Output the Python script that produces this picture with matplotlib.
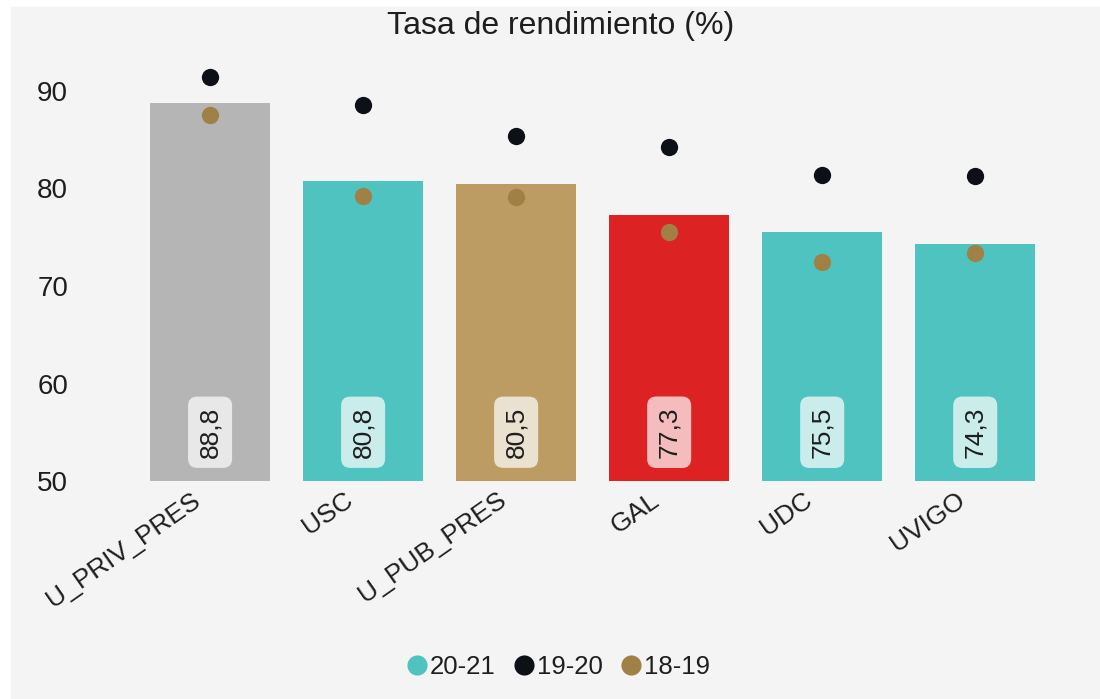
"""Tasa de rendimiento: bars for 20-21 with dots for the two previous years."""

import matplotlib
matplotlib.use("Agg")
import matplotlib.pyplot as plt
from matplotlib.patches import Rectangle
from matplotlib.lines import Line2D
from matplotlib.transforms import ScaledTranslation

# data
universities = ["U_PRIV_PRES", "USC", "U_PUB_PRES", "GAL", "UDC", "UVIGO"]
rate_20_21 = [88.8, 80.8, 80.5, 77.3, 75.5, 74.3]
rate_19_20 = [91.4, 88.6, 85.4, 84.3, 81.4, 81.3]
rate_18_19 = [87.5, 79.2, 79.1, 75.5, 72.5, 73.4]
series_names = ["20-21", "19-20", "18-19"]

# styles
bar_colors = ["#b5b5b5", "#4fc3bf", "#bd9c64", "#dc2222", "#4fc3bf", "#4fc3bf"]
teal = "#4fc3bf"
dot_dark = "#0d1117"
dot_tan = "#a08045"
bg = "#f4f4f4"
text_color = "#1e1e1e"

plt.rcParams["font.family"] = ["Liberation Sans", "DejaVu Sans"]

fig = plt.figure(figsize=(11, 6.99), dpi=100)
fig.patch.set_facecolor("white")
fig.patches.append(Rectangle((11 / 1100, 0), 1, 1 - 7 / 699,
                             transform=fig.transFigure, color=bg, zorder=-10))

ax = fig.add_axes([80 / 1100, (699 - 481) / 699, 1010 / 1100, (481 - 52) / 699])
ax.set_facecolor(bg)
for s in ax.spines.values():
    s.set_visible(False)

x = list(range(len(universities)))
ax.bar(x, [v - 50 for v in rate_20_21], bottom=50, width=0.785,
       color=bar_colors, zorder=2)
ax.scatter(x, rate_19_20, s=155, color=dot_dark, zorder=3, linewidths=0)
ax.scatter(x, rate_18_19, s=155, color=dot_tan, zorder=3, linewidths=0)

for xi, v in zip(x, rate_20_21):
    ax.text(xi, 55, f"{v:.1f}".replace(".", ","), rotation=90, ha="center",
            va="center", fontsize=19, color=text_color, zorder=4,
            bbox=dict(boxstyle="round,pad=0.38,rounding_size=0.35",
                      fc="white", ec="none", alpha=0.7))

ax.set_xlim(-0.85, 5.75)
ax.set_ylim(50, 94)
ax.set_yticks([50, 60, 70, 80, 90])
ax.tick_params(axis="y", length=0, pad=8.5, labelsize=20, labelcolor=text_color)
ax.tick_params(axis="x", length=0, pad=5, labelsize=19, labelcolor=text_color)
ax.set_xticks(x)
ax.set_xticklabels(universities, rotation=35, ha="right", rotation_mode="anchor")
offset = ScaledTranslation(-14 / 72, 0, fig.dpi_scale_trans)
for lbl in ax.get_xticklabels():
    lbl.set_transform(lbl.get_transform() + offset)

fig.text(561 / 1100, 1 - 26 / 699, "Tasa de rendimiento (%)", ha="center",
         va="center", fontsize=23, color=text_color)

handles = [Line2D([], [], marker="o", linestyle="", markersize=14.5,
                  markeredgewidth=0, color=c) for c in (teal, dot_dark, dot_tan)]
fig.legend(handles, series_names, loc="center", bbox_to_anchor=(557 / 1100, 32 / 699),
           ncol=3, frameon=False, fontsize=18.5, handletextpad=0.0,
           columnspacing=0.6, handlelength=1.0, labelcolor=text_color)

fig.savefig("out.png", dpi=100, facecolor=fig.get_facecolor())
